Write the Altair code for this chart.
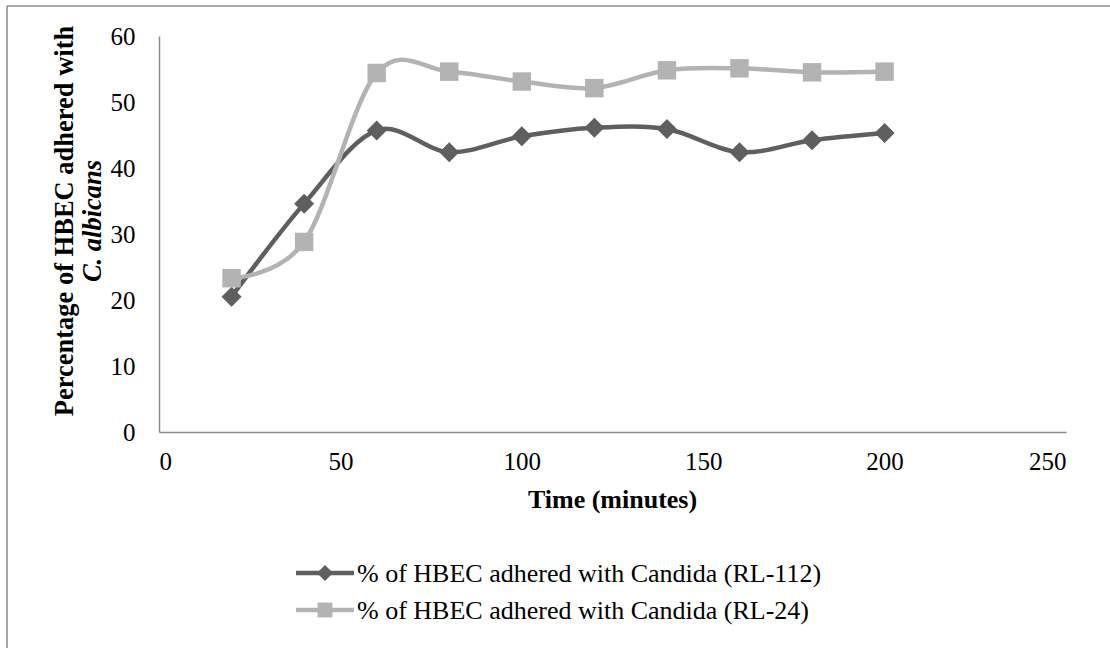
import altair as alt
import pandas as pd

time_min = [20, 40, 60, 80, 100, 120, 140, 160, 180, 200]
rl112 = [20.5, 34.6, 45.7, 42.4, 44.8, 46.1, 45.9, 42.4, 44.2, 45.3]
rl24 = [23.3, 28.8, 54.4, 54.6, 53.1, 52.1, 54.8, 55.1, 54.5, 54.6]
series_names = ["% of HBEC adhered with Candida (RL-112)",
                "% of HBEC adhered with Candida (RL-24)"]
series_colors = ["#5f5f5f", "#b3b3b3"]
series_shapes = ["diamond", "square"]
x_ticks = [0, 50, 100, 150, 200, 250]
y_ticks = [0, 10, 20, 30, 40, 50, 60]

FONT = "Liberation Serif"
W, H = 907, 396

rows = []
for name, vals in zip(series_names, [rl112, rl24]):
    for t, v in zip(time_min, vals):
        rows.append({"time": t, "pct": v, "series": name})
df = pd.DataFrame(rows)

x_enc = alt.X("time:Q", scale=alt.Scale(domain=[0, 250], nice=False),
              axis=alt.Axis(values=x_ticks, title=None, grid=False, ticks=False,
                            labelFont=FONT, labelFontSize=25, labelColor="#000000",
                            labelPadding=17, domainColor="#8c8c8c", domainWidth=1.5))
y_enc = alt.Y("pct:Q", scale=alt.Scale(domain=[0, 60], nice=False),
              axis=alt.Axis(values=y_ticks, title=None, grid=False, ticks=False,
                            labelFont=FONT, labelFontSize=25, labelColor="#000000",
                            labelPadding=24, domainColor="#8c8c8c", domainWidth=1.5))

layers = []
for name, col, shp, sz in zip(series_names, series_colors, series_shapes, [400, 340]):
    sub = df[df["series"] == name]
    base = alt.Chart(sub)
    layers.append(base.mark_line(interpolate="cardinal", strokeWidth=4.5, color=col)
                  .encode(x=x_enc, y=y_enc))
    layers.append(base.mark_point(filled=True, opacity=1, shape=shp, size=sz, color=col)
                  .encode(x=x_enc, y=y_enc))

# axis titles
ytitle1 = alt.Chart(pd.DataFrame({"t": ["Percentage of HBEC adhered with"]})).mark_text(
    font=FONT, fontSize=26.5, fontWeight="bold", angle=270, align="center", baseline="middle",
    color="#000000").encode(text="t:N", x=alt.value(-94), y=alt.value(185))
ytitle2 = alt.Chart(pd.DataFrame({"t": ["C. albicans"]})).mark_text(
    font=FONT, fontSize=26.5, fontWeight="bold", fontStyle="italic", angle=270, align="center",
    baseline="middle", color="#000000").encode(text="t:N", x=alt.value(-66), y=alt.value(185))
xtitle = alt.Chart(pd.DataFrame({"t": ["Time (minutes)"]})).mark_text(
    font=FONT, fontSize=26, fontWeight="bold", align="center", baseline="middle",
    color="#000000").encode(text="t:N", x=alt.value(W / 2), y=alt.value(464))

# legend
legend_layers = []
for i, (name, col, shp, sz) in enumerate(zip(series_names, series_colors, series_shapes, [260, 220])):
    ly = 537 + i * 37
    ldf = pd.DataFrame({"t": [name]})
    legend_layers.append(alt.Chart(ldf).mark_rule(strokeWidth=4.5, color=col).encode(
        x=alt.value(137), x2=alt.value(195), y=alt.value(ly)))
    legend_layers.append(alt.Chart(ldf).mark_point(filled=True, opacity=1, shape=shp, size=sz,
                                                   color=col).encode(
        x=alt.value(166), y=alt.value(ly)))
    legend_layers.append(alt.Chart(ldf).mark_text(font=FONT, fontSize=26, align="left",
                                                  baseline="middle", color="#000000").encode(
        text="t:N", x=alt.value(198), y=alt.value(ly + 1)))

# outer border (left and top visible)
border_l = alt.Chart(pd.DataFrame({"a": [0]})).mark_rule(color="#8c8c8c", strokeWidth=1.5).encode(
    x=alt.value(-152), y=alt.value(-30), y2=alt.value(620))
border_t = alt.Chart(pd.DataFrame({"a": [0]})).mark_rule(color="#8c8c8c", strokeWidth=1.5).encode(
    x=alt.value(-152), x2=alt.value(960), y=alt.value(-30))

chart = alt.layer(*layers, ytitle1, ytitle2, xtitle, *legend_layers, border_l, border_t).properties(
    width=W, height=H,
    autosize=alt.AutoSizeParams(type="none"),
    padding={"left": 159, "top": 36, "right": 44, "bottom": 216},
    background="#ffffff",
).configure_view(stroke=None)

chart.save("out.html", embed_options={"renderer": "svg", "actions": False})
